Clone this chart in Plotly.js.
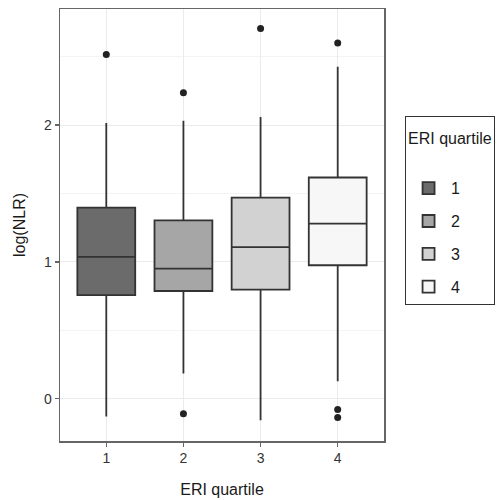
<!DOCTYPE html>
<html>
<head>
<meta charset="utf-8">
<script src="https://cdn.plot.ly/plotly-3.0.1.min.js"></script>
<style>html,body{margin:0;padding:0;background:#fff;}#chart{width:501px;height:500px;}</style>
</head>
<body>
<div id="chart"></div>
<script>
// Data
const categories = ['1', '2', '3', '4'];
const q1Vals      = [0.756, 0.787, 0.797, 0.975];
const medianVals  = [1.036, 0.951, 1.108, 1.280];
const q3Vals      = [1.397, 1.304, 1.470, 1.617];
const lowerWhisk  = [-0.130, 0.183, -0.159, 0.127];
const upperWhisk  = [2.016, 2.031, 2.060, 2.426];
const outlierCats = ['1', '2', '2', '3', '4', '4', '4'];
const outlierVals = [2.516, 2.236, -0.110, 2.707, 2.601, -0.080, -0.139];
const fillColors  = ['#6b6b6b', '#a6a6a6', '#d2d2d2', '#f7f7f7'];

const traces = categories.map((c, i) => ({
  type: 'box',
  name: c,
  legendgroup: 'g' + c,
  x: [c],
  q1: [q1Vals[i]],
  median: [medianVals[i]],
  q3: [q3Vals[i]],
  lowerfence: [lowerWhisk[i]],
  upperfence: [upperWhisk[i]],
  fillcolor: fillColors[i],
  line: {color: '#333333', width: 1.8},
  whiskerwidth: 0,
  width: 0.75,
  hoverinfo: 'skip'
}));

traces.push({
  type: 'scatter',
  mode: 'markers',
  x: outlierCats,
  y: outlierVals,
  marker: {color: '#222222', size: 7},
  showlegend: false,
  hoverinfo: 'skip'
});

const layout = {
  width: 501,
  height: 500,
  margin: {l: 60, r: 117, t: 9, b: 59, autoexpand: false},
  paper_bgcolor: '#ffffff',
  plot_bgcolor: '#ffffff',
  font: {family: 'Liberation Sans, Arial, sans-serif', color: '#1a1a1a'},
  boxmode: 'overlay',
  xaxis: {
    type: 'category',
    range: [-0.6, 3.6],
    showgrid: true,
    gridcolor: '#ebebeb',
    gridwidth: 1,
    zeroline: false,
    showline: true,
    mirror: true,
    linecolor: '#666666',
    linewidth: 1.5,
    ticks: 'outside',
    ticklen: 4,
    tickcolor: '#666666',
    tickwidth: 1.3,
    tickfont: {size: 14, color: '#333333'},
    title: {text: 'ERI quartile', font: {size: 16, color: '#1a1a1a'}, standoff: 18}
  },
  yaxis: {
    range: [-0.31, 2.849],
    tickvals: [0, 1, 2],
    ticktext: ['0', '1', '2'],
    showgrid: true,
    gridcolor: '#ebebeb',
    gridwidth: 1,
    minor: {tickvals: [0.5, 1.5, 2.5], showgrid: true, gridcolor: '#f4f4f4', gridwidth: 1, ticks: ''},
    zeroline: false,
    showline: true,
    mirror: true,
    linecolor: '#666666',
    linewidth: 1.5,
    ticks: 'outside',
    ticklen: 4,
    tickcolor: '#666666',
    tickwidth: 1.3,
    tickfont: {size: 14, color: '#333333'},
    title: {text: 'log(NLR)', font: {size: 16, color: '#1a1a1a'}, standoff: 14}
  },
  showlegend: true,
  legend: {
    x: 1.065,
    xanchor: 'left',
    y: 0.753,
    yanchor: 'top',
    bordercolor: '#333333',
    borderwidth: 1,
    bgcolor: '#ffffff',
    font: {size: 16, color: '#1a1a1a'},
    title: {text: '<span style="font-size:16px">ERI quartile</span><br> ', font: {size: 21, color: '#1a1a1a'}, side: 'top'},
    itemwidth: 35,
    tracegroupgap: 9,
    traceorder: 'grouped'
  }
};

Plotly.newPlot('chart', traces, layout, {displayModeBar: false, staticPlot: true});
</script>
</body>
</html>
